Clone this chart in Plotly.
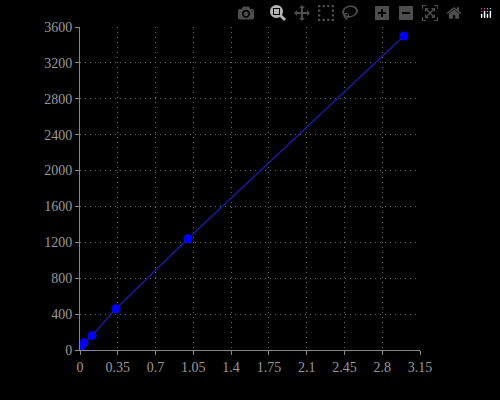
import plotly.graph_objects as go

x_vals = [0.004, 0.012, 0.037, 0.111, 0.333, 1.0, 3.0]
y_vals = [45, 55, 80, 160, 460, 1240, 3500]
x_ticks = [0, 0.35, 0.7, 1.05, 1.4, 1.75, 2.1, 2.45, 2.8, 3.15]
y_ticks = [0, 400, 800, 1200, 1600, 2000, 2400, 2800, 3200, 3600]

fig = go.Figure(go.Scatter(x=x_vals, y=y_vals, mode="lines+markers",
    line=dict(color="#1a1aa0", width=1.5),
    marker=dict(color="#0000ff", size=9)))
ax = dict(showgrid=True, gridcolor="#666", griddash="1px,4px", gridwidth=1,
          showline=True, linecolor="#888", linewidth=1, ticks="outside",
          tickcolor="#888", ticklen=4, zeroline=False,
          tickfont=dict(family="Liberation Serif", size=14, color="#999"))
fig.update_layout(width=500, height=400, paper_bgcolor="black", plot_bgcolor="black",
    margin=dict(l=80, r=80, t=27, b=50), showlegend=False,
    xaxis=dict(ax, range=[0, 3.15], tickvals=x_ticks, ticktext=[str(v) for v in x_ticks]),
    yaxis=dict(ax, range=[0, 3600], tickvals=y_ticks))
fig.write_html("out.html",
    post_script="document.body.style.margin='0';document.body.style.background='black';")
